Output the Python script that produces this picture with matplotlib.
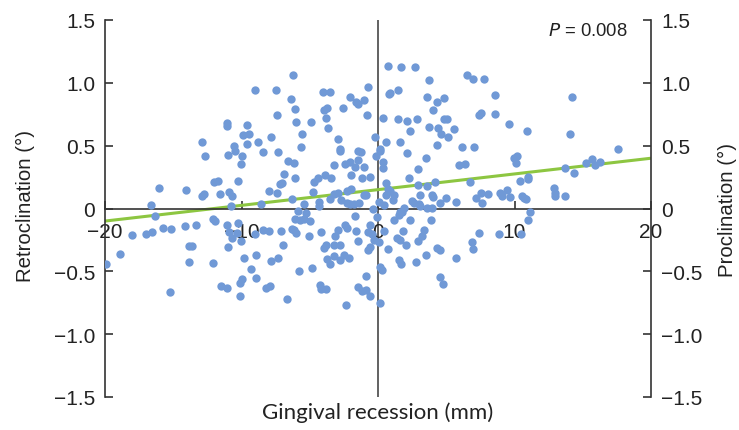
import matplotlib
matplotlib.use("Agg")
import matplotlib.pyplot as plt

# Gingival recession (mm) vs inclination (deg)
recession = [
    -9.04, -7.47, -7.37, -11.04, -11.04, -9.57, -9.89, -9.48, -12.92, -10.57, -10.45, -9.57, -8.77, -7.84,
    -12.65, -11.01, -9.94, -8.42, -7.35, -10.04,
    -6.23, -4.06, -3.50, -6.40, -0.71, -2.08, -1.64, -1.47, -1.05, -3.98, -3.71, -6.08, -2.54, -0.78,
    -6.01, -4.91, -3.83, -3.66, -5.54, -5.62, -2.96, -2.75, -2.75, -1.45, -1.22, -1.43, -0.25, -0.13,
    -6.57, -6.13, -3.20, -2.44, -2.03, -1.69, -1.01, -6.91, -6.11, -4.42, -3.86, -3.44, -1.95, -1.15, -0.61,
    0.71, 1.71, 2.69, 3.73, 0.88, 0.83, 1.49, 3.56, 4.32, 4.81, 4.00, 0.34, 1.46, 2.15, 2.86, 2.34, 3.76,
    4.37, 4.64, 4.81, 5.08, 5.12, 5.56, 0.61, 1.61, 2.12, 4.32, 3.54, 0.12, 0.17, 0.34, 0.34, 2.90, 5.93, 2.29,
    6.49, 6.96, 7.74, 8.55, 14.21, 7.42, 7.54, 8.55, 9.57, 10.89, 14.09, 6.15, 7.03, 17.56, 9.96, 10.18,
    10.13, 6.37, 13.70, 14.36, 15.21, 15.68, 15.87, 16.29, 11.01,
    -12.04, -11.75, -10.28, -16.07, -14.04, -12.89, -12.72, -11.58, -10.94, -10.67, -7.96, -7.40, -7.16,
    -7.01, -16.63, -10.77, -8.60, -16.34, -12.11, -11.97, -11.06, -10.28, -15.75, -15.19, -14.11, -13.31,
    -18.02, -16.97, -16.56, -10.94, -10.33, -10.67, -10.04, -8.45, -8.01, -8.99, -7.08, -13.85, -13.63,
    -11.01, -18.88, -19.90, -13.85, -12.09, -9.84, -8.96, -7.33, -7.84, -9.28, -8.96, -10.00, -10.09,
    -11.48, -11.06, -8.23, -7.89, -15.26, -10.09,
    -4.72, -4.77, -6.30, -5.40, -4.35, -4.35, -3.50, -3.25, -2.95, -2.72, -2.27, -2.03, -2.27, -1.98, -1.73,
    -1.41, -1.05, -0.86, -0.36, 0.07, 0.61, 0.71, 0.85, 0.61, 1.14, 1.10, 0.46, 2.90, 4.19, 3.61, 3.10,
    3.95, 4.03, 4.98, 5.71, 2.49, 2.66, 1.88, 1.59, 3.00, 3.10, 3.58, 3.95, 4.56,
    -5.88, -5.25, -6.06, -5.69, -5.45, -4.96, -6.30, -6.13, -5.98, -5.08, -4.18, -2.44, -2.27, -1.59,
    -1.65, -2.96, -3.18, -1.49, -0.57, -0.76, -0.44, -0.08, -0.32, 0.05, 0.46, 1.20, 1.51, 1.75, 2.32,
    1.80, 1.39, 1.63, 2.07, 2.93, 3.22, 3.34, 3.91, 0.71, -6.96, -3.98, -3.81, -3.25, -2.76, -0.76, -0.57,
    -2.52, -2.16, -2.81, -3.74, -3.54, -3.20, 4.32, 4.52, 3.54, 5.71, 1.51, 1.71, 2.78, 0.17, 0.29, -4.84,
    -5.81, -0.86, 4.52, 4.73, -4.28, -4.18, -3.78, -1.49, -1.17, -0.88, -0.57, -6.67, -2.35, 0.12,
    6.76, 10.42, 10.99, 7.18, 7.54, 8.03, 7.64, 8.91, 9.08, 9.45, 9.69, 10.55, 10.67, 10.87, 12.92, 13.00,
    13.00, 13.72, 11.16, 10.99, 7.37, 8.89, 10.47, 6.88, 6.96,
]
inclination = [
    0.944, 0.944, 0.746, 0.680, 0.659, 0.661, 0.582, 0.590, 0.526, 0.500, 0.455, 0.513, 0.532, 0.571,
    0.418, 0.423, 0.418, 0.450, 0.450, 0.354,
    1.061, 0.929, 0.929, 0.870, 0.968, 0.884, 0.844, 0.831, 0.862, 0.786, 0.799, 0.791, 0.799, 0.743,
    0.685, 0.685, 0.720, 0.640, 0.590, 0.492, 0.550, 0.474, 0.460, 0.455, 0.447, 0.386, 0.566, 0.421,
    0.376, 0.362, 0.347, 0.354, 0.368, 0.328, 0.333, 0.275, 0.241, 0.241, 0.267, 0.243, 0.267, 0.241, 0.249,
    1.135, 1.127, 1.127, 1.021, 0.923, 0.910, 0.942, 0.884, 0.844, 0.876, 0.780, 0.717, 0.709, 0.696,
    0.709, 0.619, 0.651, 0.638, 0.595, 0.709, 0.709, 0.566, 0.632, 0.526, 0.526, 0.439, 0.508, 0.405,
    0.460, 0.474, 0.373, 0.323, 0.315, 0.347, 0.243,
    1.063, 1.029, 1.029, 0.902, 0.884, 0.743, 0.757, 0.751, 0.669, 0.614, 0.590, 0.489, 0.489, 0.474,
    0.399, 0.418, 0.365, 0.354, 0.325, 0.283, 0.365, 0.397, 0.347, 0.370, 0.254,
    0.209, 0.222, 0.222, 0.164, 0.148, 0.098, 0.114, 0.117, 0.130, 0.098, 0.138, 0.122, 0.196, 0.204,
    0.029, 0.016, 0.032, -0.061, -0.087, -0.101, -0.135, -0.116, -0.153, -0.161, -0.137, -0.129, -0.214,
    -0.204, -0.188, -0.188, -0.196, -0.232, -0.259, -0.169, -0.182, -0.201, -0.180, -0.301, -0.301,
    -0.304, -0.360, -0.439, -0.426, -0.434, -0.394, -0.370, -0.391, -0.420, -0.478, -0.550, -0.558,
    -0.593, -0.616, -0.632, -0.632, -0.619, -0.664, -0.696,
    0.209, 0.135, 0.072, 0.037, 0.051, 0.019, 0.077, 0.116, 0.122, 0.064, 0.045, 0.037, 0.143, 0.156,
    0.037, 0.043, 0.111, 0.104, -0.002, 0.051, 0.204, 0.156, 0.143, 0.108, 0.104, 0.064, 0.024, 0.188,
    0.209, 0.180, 0.108, 0.108, 0.089, 0.083, 0.051, 0.060, 0.045, 0.003, -0.029, 0.037, 0.019, 0.003,
    0.003, 0.043,
    -0.016, -0.037, -0.082, -0.095, -0.087, -0.103, -0.161, -0.169, -0.193, -0.219, -0.188, -0.135,
    -0.156, -0.180, -0.061, -0.174, -0.219, -0.262, -0.135, -0.188, -0.201, -0.068, -0.249, -0.267,
    -0.182, -0.095, -0.055, -0.029, -0.090, -0.182, -0.235, -0.249, -0.294, -0.262, -0.219, -0.169,
    -0.090, -0.320, -0.294, -0.315, -0.294, -0.294, -0.294, -0.333, -0.306, -0.368, -0.391, -0.407,
    -0.404, -0.439, -0.381, -0.315, -0.328, -0.373, -0.394, -0.412, -0.439, -0.426, -0.466, -0.487,
    -0.473, -0.500, -0.537, -0.545, -0.598, -0.611, -0.637, -0.637, -0.624, -0.658, -0.645, -0.695,
    -0.717, -0.769, -0.751,
    0.209, 0.222, 0.236, 0.085, 0.125, 0.117, 0.043, 0.125, 0.103, 0.148, 0.090, 0.103, 0.085, 0.077,
    0.162, 0.125, 0.098, 0.098, -0.029, -0.095, -0.193, -0.201, -0.201, -0.267, -0.323,
]

trend_x = [-20, 20]
trend_y = [-0.10, 0.40]

x_ticks = [-20, -10, 0, 10, 20]
x_tick_labels = ["\u221220", "\u221210", "0", "10", "20"]
y_ticks = [-1.5, -1.0, -0.5, 0, 0.5, 1.0, 1.5]
y_tick_labels = ["\u22121.5", "\u22121.0", "\u22120.5", "0", "0.5", "1.0", "1.5"]

W, H = 739, 431
fig = plt.figure(figsize=(W / 100, H / 100), dpi=100)
ax = fig.add_axes([105 / W, 33 / H, 546 / W, 377 / H])
ax.set_xlim(-20, 20)
ax.set_ylim(-1.5, 1.5)

axis_col = "#333333"
ax.plot(trend_x, trend_y, color="#8dc641", lw=2.2, zorder=2, solid_capstyle="butt")
ax.scatter(recession, inclination, s=36, color="#7099d6", linewidths=0, zorder=3)
ax.axvline(0, color="#555555", lw=1.3, zorder=1.5)

ax.spines["top"].set_visible(False)
ax.spines["bottom"].set_position(("data", 0))
for s in ["left", "right", "bottom"]:
    ax.spines[s].set_color(axis_col)
    ax.spines[s].set_linewidth(1.2)

arial = ["Liberation Sans", "DejaVu Sans"]
tick_font = {"family": arial, "size": 15}
ax.set_xticks(x_ticks)
ax.set_xticklabels(x_tick_labels, fontdict=tick_font)
ax.set_yticks(y_ticks)
ax.set_yticklabels(y_tick_labels, fontdict=tick_font)
ax.tick_params(axis="x", direction="in", length=6, width=1.2, color=axis_col, pad=10, labelcolor="#222222")
ax.tick_params(axis="y", direction="in", length=6, width=1.2, color=axis_col, pad=7.2,
               left=True, right=True, labelleft=True, labelright=True, labelcolor="#222222")
for lab in ax.get_yticklabels(which="both"):
    lab.set_fontfamily(arial)
    lab.set_fontsize(15)

fig.text(378 / W, 1 - 413 / H, "Gingival recession (mm)", ha="center", va="center",
         fontsize=16, family=["Lato", "DejaVu Sans"], color="#222222")
fig.text(25 / W, 1 - 206 / H, "Retroclination (\u00b0)", ha="center", va="center", rotation=90,
         fontsize=14.7, family=arial, color="#222222")
fig.text(727 / W, 1 - 210 / H, "Proclination (\u00b0)", ha="center", va="center", rotation=90,
         fontsize=14.7, family=arial, color="#222222")

ax.text(0.885, 0.973, "$\\it{P}$ = 0.008", transform=ax.transAxes, ha="center", va="center",
        fontsize=13.3, family=arial, color="#222222")

fig.savefig("out.png", dpi=100)
